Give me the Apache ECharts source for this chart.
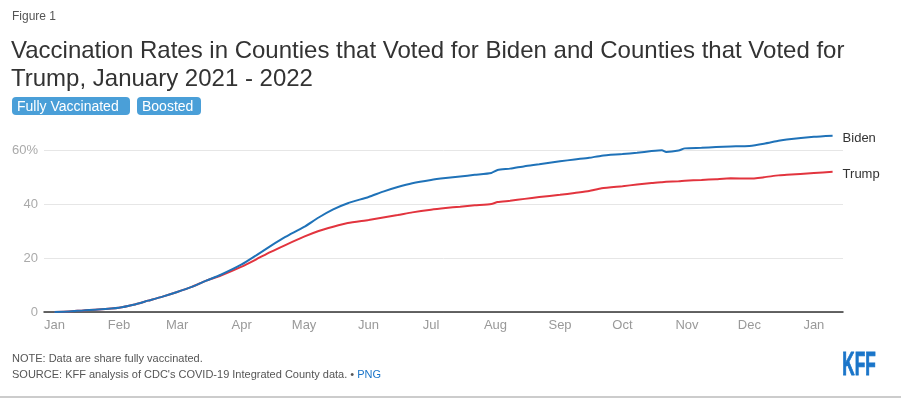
<!DOCTYPE html>
<html>
<head>
<meta charset="utf-8">
<script src="https://cdn.jsdelivr.net/npm/echarts@6/dist/echarts.min.js"></script>
<style>
  html, body { margin: 0; padding: 0; background: #fff; }
  #chart { width: 901px; height: 399px; }
</style>
</head>
<body>
<div id="chart"></div>
<script>
// days since Jan 1 2021
const days = [0, 7, 14, 21, 31, 38, 45, 52, 59, 66, 73, 80, 90, 97, 104, 111, 120, 127, 134, 141, 151, 158, 165, 172, 181, 188, 195, 202, 210, 213, 219, 226, 233, 243, 250, 257, 263, 273, 280, 287, 292, 294, 300, 303, 311, 318, 325, 334, 341, 348, 352, 365, 374]
const biden = [0, 0.2, 0.6, 0.9, 1.6, 2.7, 4.2, 5.7, 7.4, 9.3, 11.6, 13.8, 17.6, 21.0, 24.5, 27.8, 31.5, 35.0, 38.0, 40.3, 42.6, 44.6, 46.3, 47.7, 48.9, 49.6, 50.2, 50.8, 51.5, 52.6, 53.1, 54.0, 54.7, 55.8, 56.5, 57.1, 57.9, 58.5, 59.0, 59.6, 59.9, 59.3, 59.8, 60.6, 60.8, 61.1, 61.3, 61.5, 62.3, 63.4, 63.9, 64.9, 65.3]
const trump = [0, 0.2, 0.6, 0.9, 1.6, 2.7, 4.2, 5.7, 7.4, 9.3, 11.6, 13.5, 16.8, 19.5, 22.3, 24.8, 27.9, 30.0, 31.6, 33.0, 34.1, 35.0, 35.9, 36.9, 37.9, 38.5, 39.0, 39.5, 40.0, 40.7, 41.2, 41.9, 42.6, 43.4, 44.1, 44.8, 45.8, 46.6, 47.2, 47.8, 48.1, 48.2, 48.4, 48.6, 48.9, 49.2, 49.5, 49.4, 49.9, 50.6, 50.8, 51.5, 51.9]

const monthDays = [0, 31, 59, 90, 120, 151, 181, 212, 243, 273, 304, 334, 365]
const monthLabels = ['Jan', 'Feb', 'Mar', 'Apr', 'May', 'Jun', 'Jul', 'Aug', 'Sep', 'Oct', 'Nov', 'Dec', 'Jan']
const yTicks = [0, 20, 40, 60]

const font = '"Liberation Sans", Arial, sans-serif'
const btnBlue = '#4a9fd8'

function pairs(vals) {
  return days.map((d, i) => [d, vals[i]])
}

var myChart = echarts.init(document.getElementById('chart'))

const option = {
  animation: false,
  textStyle: { fontFamily: font },
  grid: { left: 44, right: 58, top: 123, bottom: 87 },
  xAxis: {
    type: 'value',
    min: -5,
    max: 379,
    axisLine: { show: true, lineStyle: { color: '#333', width: 1.5 } },
    axisTick: { show: false },
    splitLine: { show: false },
    axisLabel: {
      customValues: monthDays,
      color: '#999',
      fontSize: 13,
      margin: 7,
      formatter: (v) => monthLabels[monthDays.indexOf(v)]
    }
  },
  yAxis: {
    type: 'value',
    min: 0,
    max: 70,
    interval: 20,
    axisLine: { show: false },
    axisTick: { show: false },
    axisLabel: {
      customValues: yTicks,
      color: '#aaa',
      fontSize: 13,
      margin: 6,
      formatter: (v) => v == 60 ? v + '%' : '' + v
    },
    splitLine: { showMaxLine: false, lineStyle: { color: '#e6e6e6' } }
  },
  series: [
    {
      name: 'Biden',
      type: 'line',
      data: pairs(biden),
      showSymbol: false,
      smooth: 0.2,
      lineStyle: { color: '#1f72b8', width: 2 },
      itemStyle: { color: '#1f72b8' },
      endLabel: { show: true, formatter: '{a}', color: '#333', fontSize: 13, distance: 10, offset: [0, 3] }
    },
    {
      name: 'Trump',
      type: 'line',
      data: pairs(trump),
      showSymbol: false,
      smooth: 0.2,
      z: 1,
      lineStyle: { color: '#e2343e', width: 2 },
      itemStyle: { color: '#e2343e' },
      endLabel: { show: true, formatter: '{a}', color: '#333', fontSize: 13, distance: 10, offset: [0, 3] }
    }
  ],
  graphic: [
    { type: 'text', left: 12, top: 11, style: { text: 'Figure 1', fill: '#555', font: '12px ' + font } },
    {
      type: 'text', left: 11, top: 37,
      style: {
        text: 'Vaccination Rates in Counties that Voted for Biden and Counties that Voted for\nTrump, January 2021 - 2022',
        fill: '#333', font: '24px ' + font, lineHeight: 28
      }
    },
    { type: 'rect', left: 12, top: 97, shape: { width: 118, height: 18, r: 4 }, style: { fill: btnBlue } },
    { type: 'text', left: 17, top: 100, style: { text: 'Fully Vaccinated', fill: '#fff', font: '14px ' + font } },
    { type: 'rect', left: 137, top: 97, shape: { width: 64, height: 18, r: 4 }, style: { fill: btnBlue } },
    { type: 'text', left: 142, top: 100, style: { text: 'Boosted', fill: '#fff', font: '14px ' + font } },
    { type: 'text', left: 12, top: 353, style: { text: 'NOTE: Data are share fully vaccinated.', fill: '#555', font: '11px ' + font } },
    {
      type: 'text', left: 12, top: 369,
      style: {
        text: "{a|SOURCE: KFF analysis of CDC's COVID-19 Integrated County data. • }{b|PNG}",
        rich: {
          a: { fill: '#555', font: '11px ' + font },
          b: { fill: '#1a75c9', font: '11px ' + font }
        }
      }
    },
    {
      type: 'text', left: 842, top: 349, scaleX: 0.66, scaleY: 1.25,
      style: { text: 'KFF', fill: '#1a75c9', font: 'bold 26px ' + font, stroke: '#1a75c9', lineWidth: 0.8 }
    },
    { type: 'rect', left: 0, top: 396, shape: { width: 901, height: 2 }, style: { fill: '#ccc' } }
  ]
}

myChart.setOption(option)
</script>
</body>
</html>
